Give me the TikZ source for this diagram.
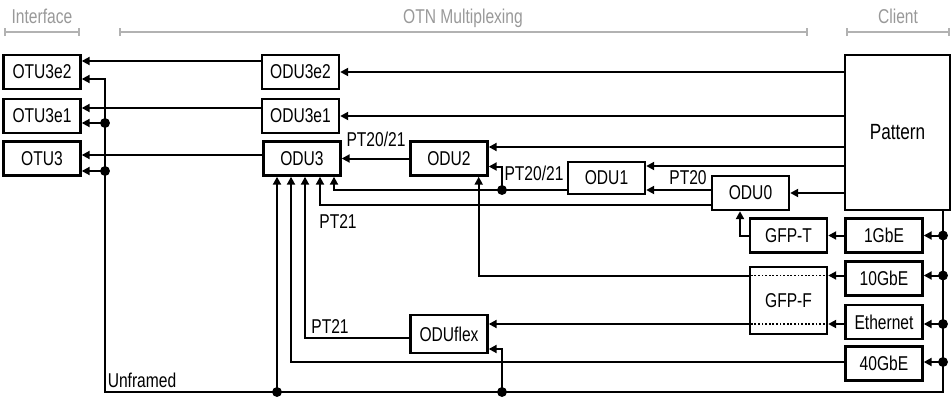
\documentclass[tikz,border=0pt]{standalone}
\usepackage{fontspec}
\setmainfont{Liberation Sans}[FakeStretch=0.78]
\usetikzlibrary{arrows.meta}

\begin{document}
\begin{tikzpicture}[x=0.5pt,y=-0.5pt,font=\fontsize{10}{12}\selectfont]
\tikzstyle{box} = [draw,line width=1.2pt,inner sep=0pt,minimum width=38.5pt,minimum height=17pt]
\tikzstyle{lbl} = [inner sep=0pt]
\tikzstyle{hdr} = [inner sep=0pt,anchor=base,text=black!40]
\tikzstyle{brk} = [draw=black!30,line width=1pt,{Bar[width=4pt]}-{Bar[width=4pt]}]
\tikzstyle{arr} = [line width=1pt,-{Triangle[length=4pt,width=4pt]}]
\tikzstyle{gline} = [line width=0.9pt,dash pattern=on 0.9pt off 0.9pt]
\tikzstyle{dot} = [draw,circle,minimum size=4.5pt,fill,inner sep=0mm]

\useasboundingbox (0,0) rectangle (952,396);

% headers
\node[hdr] (hint) at (42,23) {Interface};
\node[hdr] (hotn) at (463,23) {OTN Multiplexing};
\node[hdr] (hcli) at (898,23) {Client};
\draw[brk] (4,32) -- (80,32);
\draw[brk] (119,32) -- (808,32);
\draw[brk] (846,32) -- (950,32);

% boxes
\node[box] (otu3e2) at (42,72) {OTU3e2};
\node[box] (otu3e1) at (42,116) {OTU3e1};
\node[box] (otu3) at (42,158.5) {OTU3};
\node[box] (odu3e2) at (300.5,72) {ODU3e2};
\node[box] (odu3e1) at (300.5,116) {ODU3e1};
\node[box] (odu3) at (302,158.5) {ODU3};
\node[box] (odu2) at (449,158.5) {ODU2};
\node[box,minimum height=16pt] (odu1) at (606.5,178) {ODU1};
\node[box] (odu0) at (750.5,193) {ODU0};
\node[box,minimum height=19pt] (oduflex) at (449,334) {ODUflex};
\node[box] (gfpt) at (788.5,235.5) {GFP-T};
\node[box,minimum height=33.5pt] (gfpf) at (788.5,300.5) {GFP-F};
\node[box] (g1) at (884,235.5) {1GbE};
\node[box] (g10) at (884,278.5) {10GbE};
\node[box] (eth) at (884,322) {Ethernet};
\node[box] (g40) at (884,363.5) {40GbE};
\node[box,minimum width=52.5pt,minimum height=77.5pt,font=\fontsize{11}{13}\selectfont] (pat) at (897.5,132.5) {Pattern};

% junctions
\coordinate (busE) at (943,392);
\coordinate (busW) at (105,392);
\coordinate (j1) at (105,123);
\coordinate (j2) at (105,171);
\coordinate (j3) at (277,392);
\coordinate (j4) at (502,392);
\coordinate (j5) at (502,190);
\coordinate (k2) at (291,362);
\coordinate (k3) at (305,338);
\coordinate (k4) at (320,205);
\coordinate (k5) at (334,190);
\coordinate (u1) at ([yshift=6pt]odu1.east);
\coordinate (u2) at ([yshift=5.75pt]odu2.east);
\coordinate (v2) at ([yshift=-4pt]odu2.east);
\coordinate (l10) at ([yshift=1.5pt]g10.west);
\coordinate (lE) at ([yshift=-1pt]eth.west);
\coordinate (c1) at (busE |- g1.east);
\coordinate (c2) at (busE |- l10);
\coordinate (c3) at (busE |- lE);
\coordinate (c4) at (busE |- k2);

% ODU to OTU
\draw[arr] ([yshift=5.5pt]odu3e2.west) -- ([yshift=5.5pt]otu3e2.east);
\draw[arr] ([yshift=4pt]odu3e1.west) -- ([yshift=4pt]otu3e1.east);
\draw[arr] ([yshift=1.75pt]odu3.west) -- ([yshift=1.75pt]otu3.east);

% unframed bus
\draw[arr] (pat.south -| busE) -- (busE) -- (busW) |- ([yshift=-3.5pt]otu3e2.east);
\draw[arr] (j1) -- (j1 -| otu3e1.east);
\draw[arr] (j2) -- (j2 -| otu3.east);
\foreach \c/\b in {c1/g1,c2/g10,c3/eth,c4/g40}
  \draw[arr] (\c) -- (\c -| \b.east);

% pattern
\draw[arr] (pat.west |- odu3e2.east) -- (odu3e2.east);
\draw[arr] (pat.west |- odu3e1.east) -- (odu3e1.east);
\draw[arr] (pat.west |- u2) -- (u2);
\draw[arr] (pat.west |- u1) -- (u1);
\draw[arr] (pat.west |- odu0.east) -- (odu0.east);

% multiplexing
\draw[arr] (odu2.west) -- (odu3.east);
\draw[arr] (j5 -| odu0.west) -- (j5 -| odu1.east);
\draw[arr] (j5) |- (v2);
\draw[arr] (j3) -- (j3 |- odu3.south);
\draw[arr] (k2 -| g40.west) -- (k2) -- (k2 |- odu3.south);
\draw[arr] (k3 -| oduflex.west) -- (k3) -- (k3 |- odu3.south);
\draw[arr] (k4 -| odu0.west) -- (k4) -- (k4 |- odu3.south);
\draw[arr] (j5 -| odu1.west) -- (k5) -- (k5 |- odu3.south);
\draw[arr] (j4) |- ([yshift=-7.5pt]oduflex.east);
\draw[arr] (lE -| gfpf.west) -- (lE -| oduflex.east);

% GFP mapping
\draw[arr] (g1.west) -- (gfpt.east);
\draw[arr] (gfpt.west) -| ([xshift=-5.25pt]odu0.south);
\draw[arr] (l10) -- (l10 -| gfpf.east);
\draw[arr] (lE) -- (lE -| gfpf.east);
\draw[gline] (l10 -| gfpf.east) -- (l10 -| gfpf.west);
\draw[gline] (lE -| gfpf.east) -- (lE -| gfpf.west);
\draw[arr] (l10 -| gfpf.west) -| ([xshift=-5pt]odu2.south east);

\foreach \p in {j1,j2,j3,j4,j5,c1,c2,c3,c4}
  \node[dot] (d\p) at (\p) {};

% labels
\node[lbl] (lptA) at (376,139) {PT20/21};
\node[lbl] (lptB) at (534,173) {PT20/21};
\node[lbl] (lpt20) at (688,178) {PT20};
\node[lbl] (lpt21a) at (338,222) {PT21};
\node[lbl] (lpt21b) at (330,327) {PT21};
\node[lbl] (lunf) at (142,380) {Unframed};
\end{tikzpicture}
\end{document}
